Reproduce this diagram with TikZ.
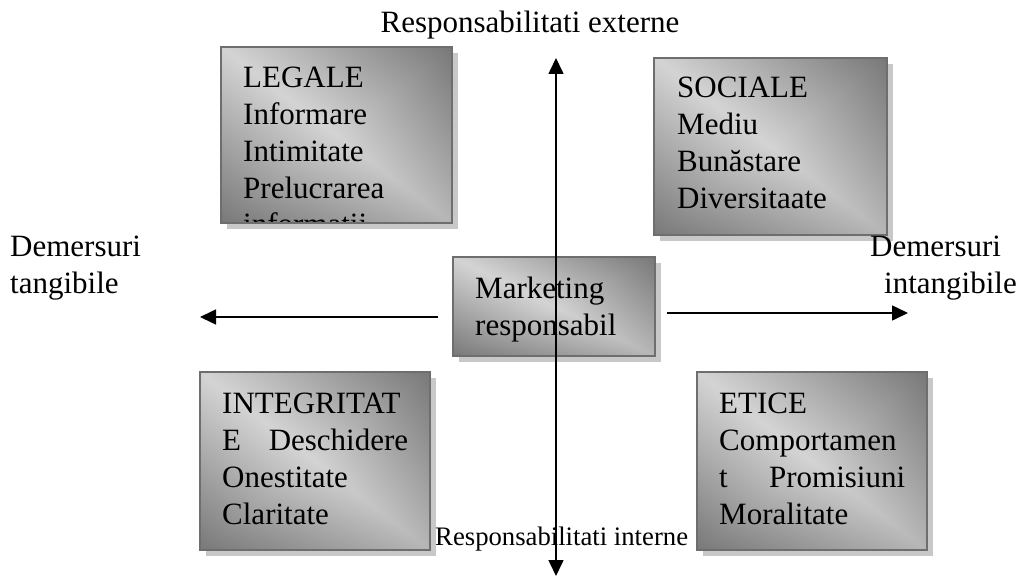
\documentclass[tikz,border=0pt]{standalone}
\usepackage{fontspec}
\setmainfont{Liberation Serif}
\usetikzlibrary{arrows.meta,shadows,calc}
\definecolor{paneledge}{HTML}{6E6E6E}
\definecolor{panelshadow}{HTML}{C8C8C8}
% diagonal grey gradient: light along one diagonal, darker towards the
% upper right and lower left corners (the path fills the 25bp..75bp square)
\pgfdeclarefunctionalshading{panelshade}{\pgfpoint{0bp}{0bp}}{\pgfpoint{100bp}{100bp}}{}{%
  2 copy
  50 sub 25 div exch 50 sub 25 div sub
  dup 0 lt {neg 0.06 mul} {pop 0} ifelse
  3 1 roll
  50 sub 25 div exch 50 sub 25 div add
  abs 2 div dup 1 gt {pop 1} if
  -0.36 mul 0.83 add
  exch sub
  dup dup}
\begin{document}
\begin{tikzpicture}[x=1pt,y=-1pt,
  >={Triangle[length=16pt,width=15pt]},
  panel/.style={rectangle, inner sep=0pt, outer sep=0pt, anchor=north west,
    draw=paneledge, line width=2.5pt, shading=panelshade,
    drop shadow={shadow xshift=6pt, shadow yshift=-6pt, fill=panelshadow, opacity=1}},
  paneltext/.style={anchor=north west, inner sep=0pt, align=left,
    font=\fontsize{31}{36.8}\selectfont},
  sidetext/.style={inner sep=0pt, align=left, font=\fontsize{31}{36.5}\selectfont},
  smalltext/.style={inner sep=0pt, font=\fontsize{26.7}{32}\selectfont},
  axisline/.style={line width=1.6pt}
]
\useasboundingbox (0,0) rectangle (1019,577);

% the five panels
\node[panel, minimum width=231pt, minimum height=176pt] (legal) at (221,47) {};
\node[panel, minimum width=233pt, minimum height=177pt] (social) at (654,58) {};
\node[panel, minimum width=202pt, minimum height=99pt] (mkt) at (453,257) {};
\node[panel, minimum width=230pt, minimum height=178pt] (integr) at (200,372) {};
\node[panel, minimum width=230pt, minimum height=178pt] (etic) at (697,372) {};

% panel texts
\begin{scope}
  \clip ($(legal.north west)+(1.3,1.3)$) rectangle ($(legal.south east)+(-1.3,-1.3)$);
  \node[paneltext] (legaltext) at ($(legal.north west)+(22,20)$)
    {LEGALE\\Informare\\Intimitate\\Prelucrarea\\informaţii};
\end{scope}
\node[paneltext] (socialtext) at ($(social.north west)+(23,19)$)
  {SOCIALE\\Mediu\\Bunăstare\\Diversitaate};
\node[paneltext] (mkttext) at ($(mkt.north west)+(22,20)$)
  {Marketing\\responsabil};
\node[paneltext] (integrtext) at ($(integr.north west)+(22,21)$)
  {INTEGRITAT\\\makebox[186pt][s]{E Deschidere}\\Onestitate\\Claritate};
\node[paneltext] (etictext) at ($(etic.north west)+(22,21)$)
  {ETICE\\Comportamen\\\makebox[186pt][s]{t Promisiuni}\\Moralitate};

% axis labels
\node[sidetext, anchor=base] (ext) at (530,33) {Responsabilitati externe};
\node[sidetext, anchor=north west] (tang) at (10,236) {Demersuri\\tangibile};
\node[sidetext, anchor=north west] (intang) at (870,236) {Demersuri\\\hspace*{14pt}intangibile};
\node[smalltext, anchor=base west] (int) at (435,545) {Responsabilitati interne};

% axes
\coordinate (lstart) at (438,317);
\coordinate (lend) at (200,317);
\coordinate (rstart) at (667,313);
\coordinate (rend) at (908,313);
\coordinate (vtop) at (556,58);
\coordinate (vbot) at (556,576);
\draw[axisline,->] (lstart) -- (lend);
\draw[axisline,->] (rstart) -- (rend);
\draw[axisline,<->] (vbot) -- (vtop);
\end{tikzpicture}
\end{document}
